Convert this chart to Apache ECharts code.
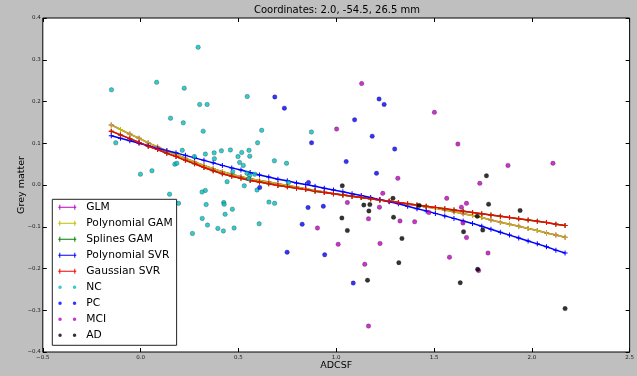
<!DOCTYPE html>
<html>
<head>
<meta charset="utf-8">
<script src="https://cdn.jsdelivr.net/npm/echarts@6/dist/echarts.min.js"></script>
<style>
  html, body { margin: 0; padding: 0; background: #bfbfbf; }
  #main { width: 637px; height: 376px; }
</style>
</head>
<body>
<div id="main"></div>
<script>
// x positions of the fitted curves (one "+" marker each)
const lineX = [-0.150, -0.103, -0.055, -0.008, 0.039, 0.087, 0.134, 0.181, 0.229, 0.276,
  0.324, 0.371, 0.418, 0.466, 0.513, 0.560, 0.608, 0.655, 0.702, 0.750,
  0.797, 0.844, 0.892, 0.939, 0.986, 1.034, 1.081, 1.128, 1.176, 1.223,
  1.271, 1.318, 1.365, 1.413, 1.460, 1.507, 1.555, 1.602, 1.649, 1.697,
  1.744, 1.791, 1.839, 1.886, 1.933, 1.981, 2.028, 2.075, 2.123, 2.170];

const polyGamY = [0.144, 0.133, 0.122, 0.112, 0.101, 0.091, 0.082, 0.073, 0.064, 0.055,
  0.047, 0.039, 0.032, 0.026, 0.020, 0.015, 0.011, 0.007, 0.003, -0.001,
  -0.005, -0.009, -0.013, -0.017, -0.021, -0.024, -0.027, -0.030, -0.033, -0.036,
  -0.039, -0.042, -0.046, -0.049, -0.053, -0.056, -0.060, -0.064, -0.069, -0.073,
  -0.078, -0.084, -0.089, -0.094, -0.099, -0.104, -0.109, -0.115, -0.120, -0.125];

const polySvrY = [0.118, 0.112, 0.106, 0.100, 0.094, 0.088, 0.082, 0.077, 0.071, 0.065,
  0.059, 0.053, 0.047, 0.041, 0.036, 0.030, 0.024, 0.019, 0.014, 0.010,
  0.005, 0.001, -0.003, -0.008, -0.012, -0.016, -0.021, -0.025, -0.030, -0.035,
  -0.040, -0.045, -0.051, -0.057, -0.062, -0.068, -0.074, -0.080, -0.086, -0.092,
  -0.099, -0.106, -0.113, -0.120, -0.127, -0.134, -0.141, -0.148, -0.156, -0.163];

const gaussSvrY = [0.129, 0.120, 0.111, 0.102, 0.093, 0.085, 0.076, 0.068, 0.059, 0.051,
  0.042, 0.034, 0.027, 0.021, 0.016, 0.011, 0.007, 0.003, -0.001, -0.004,
  -0.008, -0.011, -0.015, -0.018, -0.021, -0.024, -0.027, -0.030, -0.033, -0.036,
  -0.039, -0.042, -0.045, -0.048, -0.051, -0.054, -0.057, -0.060, -0.063, -0.066,
  -0.069, -0.072, -0.075, -0.078, -0.081, -0.084, -0.087, -0.090, -0.094, -0.097];

// GLM and Splines GAM are hidden under the other curves in the picture
const glmY = polyGamY;
const splinesGamY = gaussSvrY;

const ncPoints = [[-0.149, 0.228], [0.082, 0.246], [0.294, 0.330], [0.223, 0.232], [0.302, 0.193],
  [0.340, 0.193], [0.153, 0.160], [0.218, 0.149], [0.320, 0.129], [0.545, 0.212],
  [0.619, 0.131], [-0.127, 0.101], [-0.001, 0.026], [0.058, 0.034], [0.175, 0.050],
  [0.185, 0.052], [0.213, 0.083], [0.275, 0.068], [0.331, 0.074], [0.376, 0.077],
  [0.377, 0.063], [0.413, 0.082], [0.459, 0.084], [0.506, 0.054], [0.517, 0.078],
  [0.498, 0.068], [0.525, 0.047], [0.554, 0.083], [0.558, 0.069], [0.598, 0.101],
  [0.442, 0.008], [0.331, -0.013], [0.544, 0.028], [0.558, 0.023], [0.553, 0.015],
  [0.584, 0.026], [0.595, -0.012], [0.684, 0.058], [0.746, 0.052], [0.756, 0.006],
  [0.873, 0.127], [0.148, -0.022], [0.314, -0.017], [0.471, 0.032], [0.425, -0.042],
  [0.427, -0.046], [0.432, -0.070], [0.469, -0.058], [0.315, -0.080], [0.342, -0.096],
  [0.395, -0.104], [0.423, -0.110], [0.478, -0.103], [0.265, -0.116], [0.606, -0.093],
  [0.656, -0.041], [0.685, -0.044], [0.335, -0.047], [0.194, -0.044], [0.530, -0.002]];

const pcPoints = [[0.686, 0.211], [0.735, 0.184], [1.219, 0.206], [1.245, 0.193], [1.094, 0.156],
  [1.184, 0.117], [0.874, 0.101], [1.051, 0.056], [1.206, 0.028], [0.609, -0.006],
  [0.858, 0.006], [0.856, -0.054], [0.934, -0.051], [0.826, -0.094], [0.749, -0.161],
  [0.941, -0.167], [1.087, -0.235], [1.299, 0.086]];

const mciPoints = [[1.002, 0.134], [1.130, 0.243], [1.502, 0.174], [1.315, 0.016], [1.238, -0.020],
  [1.057, -0.042], [1.221, -0.053], [1.165, -0.081], [1.326, -0.086], [1.401, -0.088],
  [0.904, -0.103], [1.010, -0.142], [1.224, -0.140], [1.146, -0.190], [1.165, -0.338],
  [1.474, -0.066], [1.622, 0.098], [1.878, 0.047], [2.108, 0.052], [1.734, 0.004],
  [1.565, -0.032], [1.666, -0.044], [1.640, -0.053], [1.648, -0.091], [1.666, -0.126],
  [1.579, -0.173], [1.776, -0.163], [1.728, -0.205]];

const adPoints = [[1.031, -0.002], [1.290, -0.032], [1.141, -0.048], [1.172, -0.047], [1.167, -0.062],
  [1.424, -0.049], [1.029, -0.079], [1.293, -0.077], [1.057, -0.109], [1.336, -0.128],
  [1.320, -0.186], [1.160, -0.228], [1.768, 0.022], [1.779, -0.046], [1.940, -0.061],
  [1.721, -0.075], [1.749, -0.108], [1.651, -0.112], [1.723, -0.202], [1.634, -0.234],
  [2.170, -0.296]];

var myChart = echarts.init(document.getElementById("main"));

const FONT = "DejaVu Sans";
const plusSymbol = "path://M2,0H3V2H5V3H3V5H2V3H0V2H2Z";
const lineIcon = "path://M0,2H18V3H0Z M1,0H2V5H1Z M16,0H17V5H16Z";
const dotIcon = "path://M0,2.5a1.75,1.75 0 1,0 3.5,0a1.75,1.75 0 1,0 -3.5,0Z M14.5,2.5a1.75,1.75 0 1,0 3.5,0a1.75,1.75 0 1,0 -3.5,0Z";

function fmt(v) {
  return v.toFixed(1).replace("-", "\u2212");
}

function curve(name, ys, color) {
  return {
    name: name,
    type: "line",
    data: lineX.map((x, i) => [x, ys[i]]),
    symbol: plusSymbol,
    symbolSize: 5,
    showSymbol: true,
    lineStyle: { width: 1.5, color: color },
    itemStyle: { color: color },
    z: 2,
  };
}

function dots(name, pts, color) {
  return {
    name: name,
    type: "scatter",
    data: pts,
    symbol: "circle",
    symbolSize: 4.5,
    itemStyle: { color: color, borderColor: "#000", borderWidth: 0.3 },
    z: 3,
  };
}

function legendItem(name, icon) {
  return { name: name, icon: icon, itemStyle: { borderWidth: 0 } };
}

const tickStyle = { show: true, inside: true, length: 4, lineStyle: { color: "#000", width: 1 } };
const noLine = { show: false, onZero: false };

let option = {
  animation: false,
  backgroundColor: "#bfbfbf",
  textStyle: { fontFamily: FONT },
  title: {
    text: "Coordinates: 2.0, -54.5, 26.5 mm",
    left: 337,
    top: 5,
    padding: 0,
    textAlign: "center",
    textStyle: { fontFamily: FONT, fontSize: 10, fontWeight: "normal", color: "#000" },
  },
  grid: {
    left: 42.8,
    right: 5,
    top: 18,
    bottom: 24,
    show: true,
    backgroundColor: "#fff",
    borderColor: "#000",
    borderWidth: 1,
  },
  legend: {
    orient: "vertical",
    left: 52.3,
    top: 199.3,
    padding: [2, 4, 4, 6],
    itemGap: 4,
    itemWidth: 18,
    itemHeight: 5,
    selectedMode: false,
    backgroundColor: "#fff",
    borderColor: "#222",
    borderWidth: 1,
    borderRadius: 0,
    itemStyle: { borderWidth: 0 },
    textStyle: { fontFamily: FONT, fontSize: 10.7, lineHeight: 12, color: "#000", padding: [0, 0, 0, 5] },
    data: [
      legendItem("GLM", lineIcon),
      legendItem("Polynomial GAM", lineIcon),
      legendItem("Splines GAM", lineIcon),
      legendItem("Polynomial SVR", lineIcon),
      legendItem("Gaussian SVR", lineIcon),
      legendItem("NC", dotIcon),
      legendItem("PC", dotIcon),
      legendItem("MCI", dotIcon),
      legendItem("AD", dotIcon),
    ],
  },
  xAxis: [
    {
      type: "value",
      min: -0.5,
      max: 2.5,
      interval: 0.5,
      name: "ADCSF",
      nameLocation: "middle",
      nameGap: 8.5,
      nameMoveOverlap: false,
      nameTextStyle: { fontFamily: FONT, fontSize: 9.5, color: "#000" },
      axisLine: noLine,
      axisTick: tickStyle,
      splitLine: { show: false },
      axisLabel: { fontSize: 5.5, color: "#222", margin: 3, formatter: fmt, showMinLabel: true, showMaxLabel: true },
    },
    {
      type: "value",
      position: "top",
      min: -0.5,
      max: 2.5,
      interval: 0.5,
      axisLine: noLine,
      axisTick: tickStyle,
      splitLine: { show: false },
      axisLabel: { show: false },
    },
  ],
  yAxis: [
    {
      type: "value",
      min: -0.4,
      max: 0.4,
      interval: 0.1,
      name: "Grey matter",
      nameLocation: "middle",
      nameGap: 16,
      nameMoveOverlap: false,
      nameTextStyle: { fontFamily: FONT, fontSize: 9.5, color: "#000" },
      axisLine: noLine,
      axisTick: tickStyle,
      splitLine: { show: false },
      axisLabel: { fontSize: 5.5, color: "#222", margin: 2, formatter: fmt, showMinLabel: true, showMaxLabel: true },
    },
    {
      type: "value",
      position: "right",
      min: -0.4,
      max: 0.4,
      interval: 0.1,
      axisLine: noLine,
      axisTick: tickStyle,
      splitLine: { show: false },
      axisLabel: { show: false },
    },
  ],
  series: [
    curve("GLM", glmY, "#bf00bf"),
    curve("Polynomial GAM", polyGamY, "#bfbf00"),
    curve("Splines GAM", splinesGamY, "#008000"),
    curve("Polynomial SVR", polySvrY, "#0000ff"),
    curve("Gaussian SVR", gaussSvrY, "#ff0000"),
    dots("NC", ncPoints, "#00bfbf"),
    dots("PC", pcPoints, "#0000ff"),
    dots("MCI", mciPoints, "#bf00bf"),
    dots("AD", adPoints, "#000000"),
  ],
};

myChart.setOption(option);
</script>
</body>
</html>
